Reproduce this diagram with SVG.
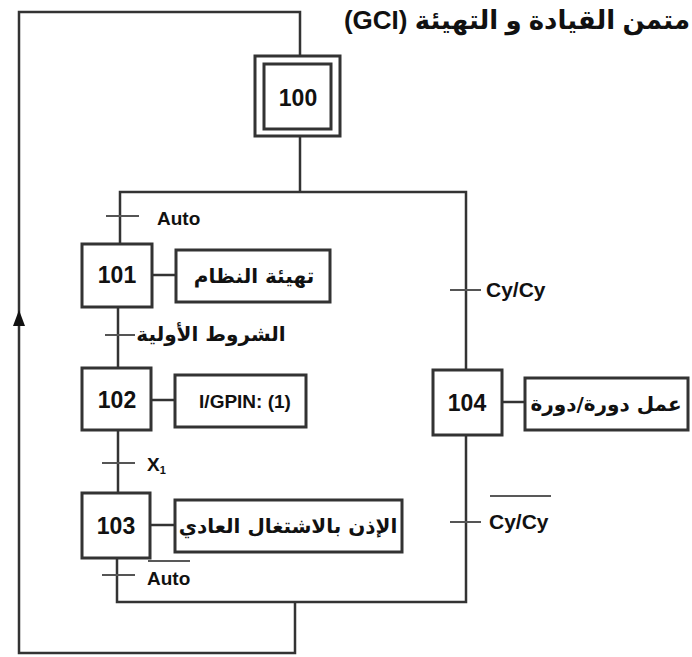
<svg xmlns="http://www.w3.org/2000/svg" width="692" height="657" viewBox="0 0 692 657">
<style>
.ln{stroke:#333;stroke-width:2.5;fill:none}
.tk{stroke:#555;stroke-width:2;fill:none}
.box{fill:#fff;stroke:#333;stroke-width:3}
.num{font-family:"Liberation Sans","DejaVu Sans",sans-serif;font-weight:bold;font-size:23px;fill:#111;text-anchor:middle}
.lbl{font-family:"Liberation Sans","DejaVu Sans",sans-serif;font-weight:bold;font-size:19px;fill:#111}
.cy{font-size:21px}
.ar{font-family:"DejaVu Sans","Liberation Sans",sans-serif;font-weight:bold;font-size:20px;fill:#111;text-anchor:middle}
</style>
<rect width="692" height="657" fill="#fff"/>
<text x="690" y="29" class="lbl" style="font-size:26px" text-anchor="end">(GCI) متمن القيادة و التهيئة</text>
<g id="connectors">
<polyline class="ln" points="300,56 300,12 19,12 19,653 295,653 295,602"/>
<polygon points="19,310 13,326 25,326" fill="#111"/>
<line class="ln" x1="300" y1="136" x2="300" y2="192"/>
<polyline class="ln" points="120,244 120,192 466,192 466,370"/>
<line class="ln" x1="118" y1="307" x2="118" y2="368"/>
<line class="ln" x1="118" y1="430" x2="118" y2="493"/>
<polyline class="ln" points="117,558 117,602 466,602 466,435"/>
<line class="ln" x1="152" y1="275" x2="176" y2="275"/>
<line class="ln" x1="151" y1="400" x2="175" y2="400"/>
<line class="ln" x1="150" y1="525" x2="175" y2="525"/>
<line class="ln" x1="502" y1="402" x2="525" y2="402"/>
<line class="tk" x1="106" y1="216" x2="139" y2="216"/>
<line class="tk" x1="105" y1="335" x2="135" y2="335"/>
<line class="tk" x1="102" y1="463" x2="135" y2="463"/>
<line class="tk" x1="102" y1="575" x2="135" y2="575"/>
<line class="tk" x1="450" y1="290" x2="481" y2="290"/>
<line class="tk" x1="450" y1="522" x2="481" y2="522"/>
<text x="157" y="225" class="lbl">Auto</text>
<text x="211" y="341" class="ar">الشروط الأولية</text>
<text x="147" y="471" class="lbl">X<tspan font-size="11" dy="3">1</tspan></text>
<text x="147" y="585" class="lbl">Auto</text>
<line x1="148" y1="561" x2="190" y2="561" stroke="#222" stroke-width="1.5"/>
<text x="486" y="297" class="lbl cy">Cy/Cy</text>
<text x="489" y="529" class="lbl cy">Cy/Cy</text>
<line x1="490" y1="496" x2="551" y2="496" stroke="#222" stroke-width="1.5"/>
</g>
<g id="step100">
<rect class="box" x="255" y="56" width="85" height="80"/>
<rect class="box" x="264" y="64" width="67" height="65"/>
<text x="298" y="106" class="num">100</text>
</g>
<g id="step101">
<rect class="box" x="82" y="244" width="70" height="63"/>
<text x="117" y="283" class="num">101</text>
</g>
<g id="action101">
<rect class="box" x="176" y="250" width="154" height="52"/>
<text x="254" y="283" class="ar">تهيئة النظام</text>
</g>
<g id="step102">
<rect class="box" x="82" y="368" width="69" height="62"/>
<text x="117" y="408" class="num">102</text>
</g>
<g id="action102">
<rect class="box" x="175" y="375" width="131" height="52"/>
<text x="245" y="408" class="lbl" text-anchor="middle">I/GPIN: (1)</text>
</g>
<g id="step103">
<rect class="box" x="82" y="493" width="68" height="65"/>
<text x="116" y="534" class="num">103</text>
</g>
<g id="action103">
<rect class="box" x="175" y="500" width="227" height="52"/>
<text x="288" y="533" class="ar">الإذن بالاشتغال العادي</text>
</g>
<g id="step104">
<rect class="box" x="433" y="370" width="69" height="65"/>
<text x="467" y="411" class="num">104</text>
</g>
<g id="action104">
<rect class="box" x="525" y="378" width="163" height="52"/>
<text x="606" y="411" class="ar">عمل دورة/دورة</text>
</g>
</svg>
